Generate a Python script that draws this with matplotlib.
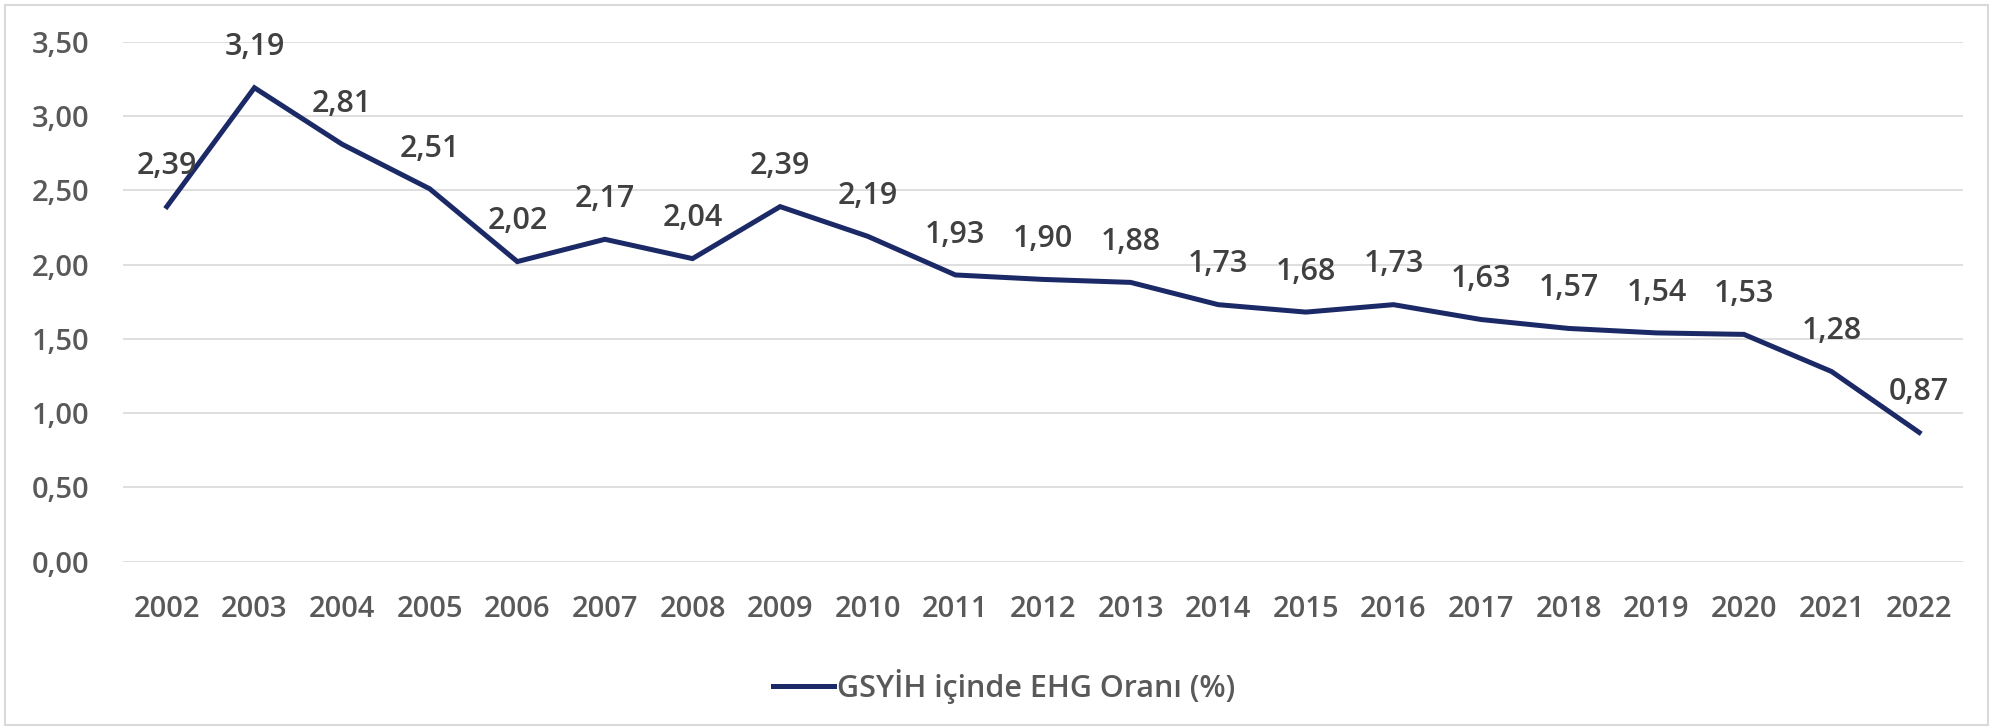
import matplotlib
matplotlib.use("Agg")
import matplotlib.pyplot as plt
from matplotlib.patches import Rectangle
from matplotlib.lines import Line2D

years = ["2002", "2003", "2004", "2005", "2006", "2007", "2008", "2009", "2010", "2011",
         "2012", "2013", "2014", "2015", "2016", "2017", "2018", "2019", "2020", "2021", "2022"]
values = [2.39, 3.19, 2.81, 2.51, 2.02, 2.17, 2.04, 2.39, 2.19, 1.93,
          1.90, 1.88, 1.73, 1.68, 1.73, 1.63, 1.57, 1.54, 1.53, 1.28, 0.87]
yticks = [0.0, 0.5, 1.0, 1.5, 2.0, 2.5, 3.0, 3.5]
series_name = "GSYİH içinde EHG Oranı (%)"

plt.rcParams['font.family'] = ['Open Sans', 'DejaVu Sans']
plt.rcParams['font.weight'] = 'semibold'
W, H = 1995, 728
fig = plt.figure(figsize=(W / 100, H / 100), dpi=100)
ax = fig.add_axes([123 / W, 1 - 561.7 / H, (1963 - 123) / W, (561.7 - 41.7) / H])

line_color = "#1B2A66"
text_color = "#595959"
fs = 21

x = list(range(len(years)))
ax.plot(x, values, color=line_color, lw=3.6, solid_joinstyle='miter', zorder=3)
for xi, v in zip(x, values):
    ax.annotate(f"{v:.2f}".replace(".", ","), (xi, v), xytext=(0, 29), textcoords="offset points",
                ha="center", va="center", fontsize=22, color="#404040", fontweight='semibold', zorder=4)

ax.set_xlim(-0.5, len(years) - 0.5)
ax.set_ylim(0, 3.5)
ax.set_yticks(yticks)
ax.set_yticklabels([f"{t:.2f}".replace(".", ",") for t in yticks], fontweight='semibold')
ax.set_xticks(x)
ax.set_xticklabels(years, fontweight='semibold')
ax.tick_params(axis='both', length=0, labelsize=fs, labelcolor=text_color)
ax.tick_params(axis='y', pad=24)
ax.tick_params(axis='x', pad=24)
for s in ax.spines.values():
    s.set_visible(False)
ax.grid(axis='y', color="#D9D9D9", lw=1.2)
ax.set_axisbelow(True)

handle = Line2D([], [], color=line_color, lw=3.6)
fig.legend([handle], [series_name], loc="center", bbox_to_anchor=(1004 / W, 1 - 686 / H),
           frameon=False, prop={'size': 22, 'weight': 'semibold'}, labelcolor=text_color,
           handlelength=2.0, handletextpad=0.1)

fig.patches.append(Rectangle((5 / W, 3 / H), (1988 - 5) / W, (723 - 3) / H, transform=fig.transFigure,
                             fill=False, edgecolor="#D9D9D9", lw=1.5))

fig.savefig("out.png", dpi=100)
